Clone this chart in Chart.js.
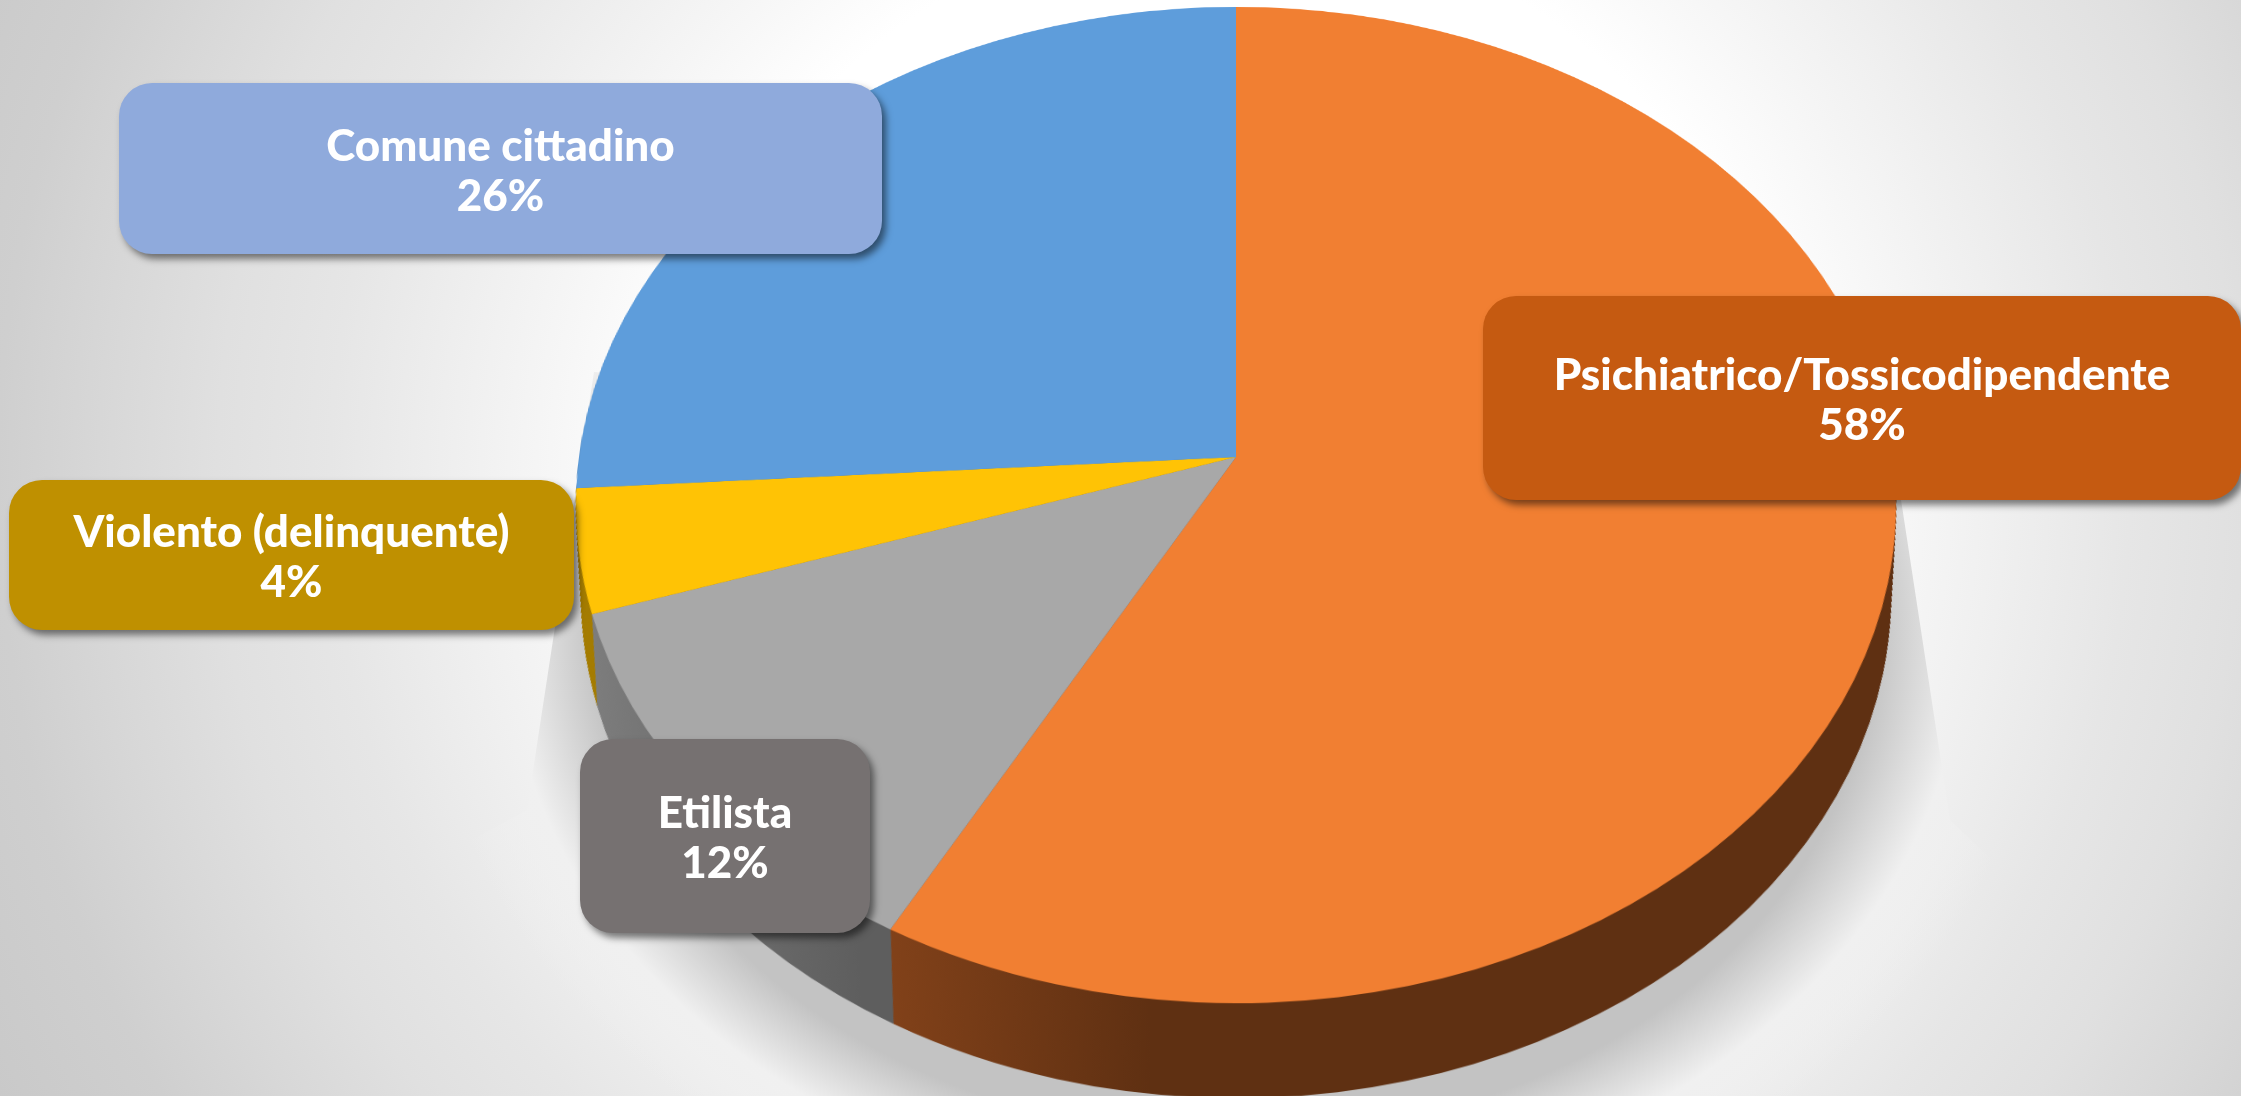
<!DOCTYPE html>
<html lang="it">
<head>
<meta charset="utf-8">
<title>Tipologie</title>
<script src="https://cdn.jsdelivr.net/npm/chart.js@4"></script>
<style>
html,body{margin:0;padding:0;width:2241px;height:1096px;overflow:hidden}
body{position:relative;background:radial-gradient(circle 1400px at 1230px 480px,#ffffff 0,#ffffff 560px,#f6f6f6 680px,#e6e6e6 900px,#e0e0e0 1013px,#d8d8d8 1119px,#cfcfcf 1232px,#c8c8c8 1400px)}
#shadow{position:absolute;left:0;top:0;width:2241px;height:1096px;
 clip-path:polygon(594px 372px,1898px 480px,1950px 820px,2241px 1096px,0 1096px,527px 810px);
 background:radial-gradient(ellipse 750px 590px at 1236px 635px,#c3c3c3 0%,#c3c3c3 85%,rgba(240,240,240,.95) 97%,rgba(240,240,240,0) 108%)}
#pie{position:absolute;left:459px;top:-320px;transform-origin:777px 777px;transform:perspective(4499px) rotateX(41.3deg)}
.box{position:absolute;display:flex;flex-direction:column;justify-content:center;align-items:center;box-sizing:border-box;border-radius:33px;
 color:#fff;font:900 44px/50px Lato,sans-serif;text-align:center;box-shadow:4px 5px 7px rgba(0,0,0,.5);white-space:nowrap}
#b0{left:1483px;top:296px;width:758px;height:204px}
#b1{left:580px;top:739px;width:290px;height:194px}
#b2{left:9px;top:480px;width:565px;height:150px}
#b3{left:119px;top:83px;width:763px;height:171px}
</style>
</head>
<body>
<div id="shadow"></div>
<canvas id="pie" width="1554" height="1554"></canvas>
<div id="labels"></div>
<script>
const categories = ["Psichiatrico/Tossicodipendente", "Etilista", "Violento (delinquente)", "Comune cittadino"];
const shares = [58, 12, 4, 26];
const faceColors = ["#f17f32", "#a8a8a8", "#ffc305", "#5e9ddb"];
const labelColors = ["#c55a11", "#767171", "#bf9000", "#8faadc"];

const extrude = {
  id: "extrude",
  beforeDatasetsDraw(chart) {
    const ctx = chart.ctx, arcs = chart.getDatasetMeta(0).data;
    const cx = arcs[0].x, cy = arcs[0].y;
    const orange = ctx.createLinearGradient(cx - 346, 0, cx - 77, 0);
    orange.addColorStop(0, "#85431a"); orange.addColorStop(1, "#5f3012");
    const grey = ctx.createLinearGradient(cx - 657, 0, cx - 346, 0);
    grey.addColorStop(0, "#808080"); grey.addColorStop(1, "#5e5e5e");
    const walls = [orange, grey, "#a57d00", "#4a7cab"];
    const depth = 118;
    for (let k = depth; k >= 1; k--) {
      const s = 1 - 0.025 * k / depth;
      ctx.save();
      ctx.translate(cx, cy + k);
      ctx.scale(s, s);
      ctx.translate(-cx, -cy);
      arcs.forEach((arc, i) => {
        const o = arc.options;
        arc.options = Object.assign(Object.create(o), {backgroundColor: walls[i]});
        arc.draw(ctx);
        arc.options = o;
      });
      ctx.restore();
    }
  }
};

new Chart(document.getElementById("pie"), {
  type: "pie",
  data: {labels: categories, datasets: [{data: shares, backgroundColor: faceColors, borderWidth: 0}]},
  options: {
    responsive: false, animation: false,
    layout: {padding: 120},
    plugins: {legend: {display: false}, tooltip: {enabled: false}}
  },
  plugins: [extrude]
});

const host = document.getElementById("labels");
categories.forEach((name, i) => {
  const d = document.createElement("div");
  d.className = "box"; d.id = "b" + i; d.style.background = labelColors[i];
  const a = document.createElement("div"); a.textContent = name;
  const b = document.createElement("div"); b.textContent = shares[i] + "%";
  d.append(a, b); host.append(d);
});
</script>
</body>
</html>
